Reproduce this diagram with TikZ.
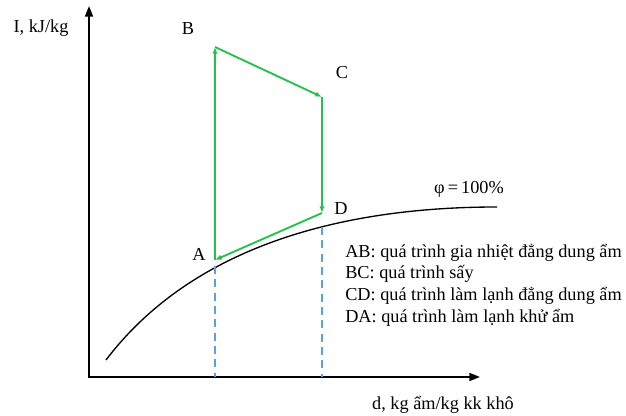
\documentclass[tikz,border=0pt]{standalone}
\usepackage{fontspec}
\setmainfont{Liberation Serif}
\usetikzlibrary{arrows.meta}
\definecolor{cyclegreen}{RGB}{35,195,75}
\definecolor{dropblue}{RGB}{90,160,230}
\begin{document}
\begin{tikzpicture}[x=0.75pt, y=-0.75pt,
        font=\fontsize{13.7}{16.3}\selectfont,
        axisline/.style={line width=1.3pt, -{Triangle[length=8pt, width=6pt]}},
        cycleline/.style={cyclegreen, line width=1.4pt, -{Latex[length=5pt, width=4pt]}},
        dropline/.style={dropblue, line width=1pt, dash pattern=on 6pt off 4pt}]
    \useasboundingbox (0,0) rectangle (626,416);
    % axes
    \coordinate (O) at (89,377);
    \coordinate (Itop) at (89,6);
    \coordinate (dend) at (480,377);
    \draw[axisline] (O) -- (Itop);
    \draw[axisline] ([xshift=-0.65pt]O) -- (dend);
    \node (Ilabel) at (41,28) {I, kJ/kg};
    \node (dlabel) at (443,405) {d, kg ẩm/kg kk khô};
    % saturation curve
    \coordinate (S0) at (106,360);
    \coordinate (S1) at (497,207);
    \draw[line width=1pt] (S0) .. controls (188,252) and (330,207) .. (S1);
    \node (phi) at (469,189) {φ\,=\,100\%};
    % state points
    \coordinate (A) at (215,260);
    \coordinate (B) at (215,47);
    \coordinate (C) at (322,97);
    \coordinate (D) at (322,213);
    \coordinate (Ac) at (215,266);
    \coordinate (Ad) at (215,377);
    \coordinate (Dd) at (322,377);
    \coordinate (Dc) at (322,227);
    \draw[dropline] (Ac) -- (Ad);
    \draw[dropline] (Dc) -- (Dd);
    \draw[cycleline] (A) -- (B);
    \draw[cycleline] (B) -- (C);
    \draw[cycleline] (C) -- (D);
    \draw[cycleline] (D) -- (A);
    \node (Alabel) at (199,254) {A};
    \node (Blabel) at (188,29) {B};
    \node (Clabel) at (342,73) {C};
    \node (Dlabel) at (341,209) {D};
    % legend
    \node[anchor=west, align=left, inner sep=0pt] (legend) at (345,285)
        {AB: quá trình gia nhiệt đẳng dung ẩm\\
         BC: quá trình sấy\\
         CD: quá trình làm lạnh đẳng dung ẩm\\
         DA: quá trình làm lạnh khử ẩm};
\end{tikzpicture}
\end{document}
